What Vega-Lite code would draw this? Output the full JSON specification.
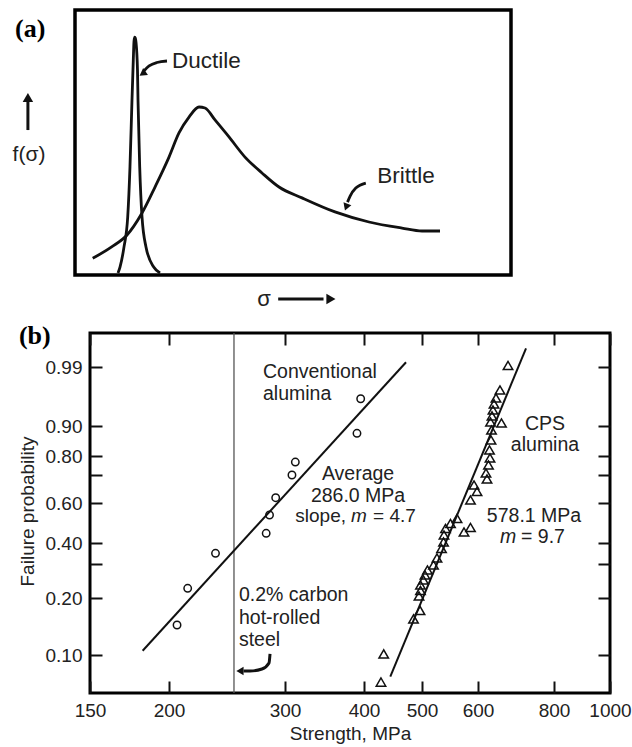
{
  "$schema": "https://vega.github.io/schema/vega-lite/v6.json",
  "background": "white",
  "padding": {"left": 10, "top": 8, "right": 0, "bottom": 0},
  "config": {
    "font": "Liberation Sans",
    "view": {"stroke": null},
    "axis": {
      "domain": false, "grid": false, "ticks": true, "tickSize": -12, "tickWidth": 2, "tickColor": "#111",
      "labelPadding": 20, "labelFont": "Liberation Sans", "labelFontSize": 19, "labelColor": "#222",
      "labelOverlap": false, "labelFlush": false,
      "titleFont": "Liberation Sans", "titleFontSize": 19, "titleFontWeight": "normal", "titleColor": "#222"
    }
  },
  "datasets": {
    "curves": [
      {"curve": "Ductile", "x": 9.86, "y": 0.75},
      {"curve": "Ductile", "x": 10.32, "y": 3.0},
      {"curve": "Ductile", "x": 11.24, "y": 10.6},
      {"curve": "Ductile", "x": 12.09, "y": 21.9},
      {"curve": "Ductile", "x": 12.61, "y": 40.8},
      {"curve": "Ductile", "x": 13.07, "y": 66.0},
      {"curve": "Ductile", "x": 13.37, "y": 81.1},
      {"curve": "Ductile", "x": 13.53, "y": 88.2},
      {"curve": "Ductile", "x": 13.69, "y": 89.8},
      {"curve": "Ductile", "x": 13.84, "y": 89.4},
      {"curve": "Ductile", "x": 13.99, "y": 87.9},
      {"curve": "Ductile", "x": 14.33, "y": 77.4},
      {"curve": "Ductile", "x": 14.45, "y": 66.0},
      {"curve": "Ductile", "x": 14.84, "y": 40.8},
      {"curve": "Ductile", "x": 15.37, "y": 21.9},
      {"curve": "Ductile", "x": 16.28, "y": 10.6},
      {"curve": "Ductile", "x": 18.05, "y": 3.0},
      {"curve": "Ductile", "x": 19.5, "y": 0.75},
      {"curve": "Brittle", "x": 4.06, "y": 6.3},
      {"curve": "Brittle", "x": 8.49, "y": 10.7},
      {"curve": "Brittle", "x": 11.93, "y": 15.1},
      {"curve": "Brittle", "x": 15.37, "y": 23.4},
      {"curve": "Brittle", "x": 18.35, "y": 33.2},
      {"curve": "Brittle", "x": 21.56, "y": 44.5},
      {"curve": "Brittle", "x": 23.85, "y": 53.6},
      {"curve": "Brittle", "x": 26.15, "y": 59.6},
      {"curve": "Brittle", "x": 28.44, "y": 63.4},
      {"curve": "Brittle", "x": 29.82, "y": 63.0},
      {"curve": "Brittle", "x": 32.11, "y": 58.5},
      {"curve": "Brittle", "x": 35.32, "y": 52.1},
      {"curve": "Brittle", "x": 38.99, "y": 44.5},
      {"curve": "Brittle", "x": 42.89, "y": 38.5},
      {"curve": "Brittle", "x": 46.79, "y": 33.2},
      {"curve": "Brittle", "x": 52.06, "y": 29.1},
      {"curve": "Brittle", "x": 59.63, "y": 23.8},
      {"curve": "Brittle", "x": 67.43, "y": 20.0},
      {"curve": "Brittle", "x": 75.0, "y": 17.7},
      {"curve": "Brittle", "x": 79.59, "y": 16.6},
      {"curve": "Brittle", "x": 83.72, "y": 16.6}
    ],
    "pointers": [
      {"pointer": "Ductile", "x": 21.1, "y": 80.75},
      {"pointer": "Ductile", "x": 18.8, "y": 80.2},
      {"pointer": "Ductile", "x": 17.0, "y": 78.9},
      {"pointer": "Ductile", "x": 15.8, "y": 77.0},
      {"pointer": "Brittle", "x": 66.7, "y": 34.7},
      {"pointer": "Brittle", "x": 64.4, "y": 32.8},
      {"pointer": "Brittle", "x": 63.1, "y": 29.8},
      {"pointer": "Brittle", "x": 62.5, "y": 27.5}
    ],
    "conv": [
      {"strength": 205.7, "p": 0.1526},
      {"strength": 213.5, "p": 0.2285},
      {"strength": 235.3, "p": 0.351},
      {"strength": 280.9, "p": 0.4485},
      {"strength": 284.2, "p": 0.54},
      {"strength": 290.4, "p": 0.619},
      {"strength": 307.7, "p": 0.70},
      {"strength": 311.5, "p": 0.768},
      {"strength": 395.2, "p": 0.9416},
      {"strength": 389.9, "p": 0.8757}
    ],
    "cps": [
      {"strength": 672.2, "p": 0.9923},
      {"strength": 652.1, "p": 0.9549},
      {"strength": 642.3, "p": 0.9427},
      {"strength": 637.5, "p": 0.9336},
      {"strength": 635.0, "p": 0.9244},
      {"strength": 632.6, "p": 0.9153},
      {"strength": 655.8, "p": 0.9046},
      {"strength": 629.1, "p": 0.9061},
      {"strength": 631.5, "p": 0.8867},
      {"strength": 630.3, "p": 0.8533},
      {"strength": 626.7, "p": 0.82},
      {"strength": 627.9, "p": 0.7895},
      {"strength": 624.3, "p": 0.7526},
      {"strength": 618.4, "p": 0.7105},
      {"strength": 620.8, "p": 0.6857},
      {"strength": 592.3, "p": 0.6643},
      {"strength": 598.1, "p": 0.6411},
      {"strength": 585.5, "p": 0.6107},
      {"strength": 560.4, "p": 0.5225},
      {"strength": 548.6, "p": 0.4975},
      {"strength": 585.5, "p": 0.4775},
      {"strength": 573.3, "p": 0.455},
      {"strength": 539.8, "p": 0.4725},
      {"strength": 537.1, "p": 0.44},
      {"strength": 536.3, "p": 0.405},
      {"strength": 532.8, "p": 0.3738},
      {"strength": 525.0, "p": 0.3286},
      {"strength": 519.1, "p": 0.2971},
      {"strength": 509.0, "p": 0.2824},
      {"strength": 504.9, "p": 0.2676},
      {"strength": 502.4, "p": 0.2529},
      {"strength": 497.1, "p": 0.2382},
      {"strength": 497.1, "p": 0.2221},
      {"strength": 494.3, "p": 0.2059},
      {"strength": 496.2, "p": 0.1781},
      {"strength": 483.9, "p": 0.1632},
      {"strength": 431.5, "p": 0.1018},
      {"strength": 427.0, "p": 0.0526}
    ],
    "fits": [
      {"series": "Conventional alumina", "strength": 181.7, "p": 0.1075},
      {"series": "Conventional alumina", "strength": 470.2, "p": 0.9972},
      {"series": "CPS alumina", "strength": 442.6, "p": 0.0619},
      {"series": "CPS alumina", "strength": 719.6, "p": 1.0185}
    ],
    "steelArrow": [
      {"strength": 284.7, "p": 0.1018},
      {"strength": 283.7, "p": 0.086},
      {"strength": 276.8, "p": 0.0754},
      {"strength": 265.5, "p": 0.0719},
      {"strength": 259.5, "p": 0.0719}
    ]
  },
  "bounds": "flush",
  "spacing": 58,
  "vconcat": [
    {
      "width": 436,
      "height": 265,
      "view": {"stroke": "#000", "strokeWidth": 3.5},
      "layer": [
        {
          "data": {"name": "curves"},
          "mark": {"type": "line", "color": "#111", "strokeWidth": 2.8, "interpolate": "monotone"},
          "encoding": {
            "x": {"field": "x", "type": "quantitative", "scale": {"domain": [0, 100], "nice": false, "zero": false}, "axis": null},
            "y": {"field": "y", "type": "quantitative", "scale": {"domain": [0, 100], "nice": false, "zero": false}, "axis": null},
            "detail": {"field": "curve"}
          }
        },
        {
          "data": {"name": "pointers"},
          "mark": {"type": "line", "color": "#111", "strokeWidth": 2.8, "interpolate": "monotone"},
          "encoding": {
            "x": {"field": "x", "type": "quantitative"},
            "y": {"field": "y", "type": "quantitative"},
            "detail": {"field": "pointer"}
          }
        },
        {
          "data": {"values": [{}]},
          "mark": {"type": "point", "shape": "triangle-up", "filled": true, "color": "#111", "size": 70, "angle": 235, "opacity": 1},
          "encoding": {"x": {"datum": 15.5}, "y": {"datum": 76.0}}
        },
        {
          "data": {"values": [{}]},
          "mark": {"type": "point", "shape": "triangle-up", "filled": true, "color": "#111", "size": 70, "angle": 200, "opacity": 1},
          "encoding": {"x": {"datum": 62.2}, "y": {"datum": 25.6}}
        },
        {
          "data": {"values": [{}]},
          "mark": {"type": "rule", "color": "#111", "strokeWidth": 3},
          "encoding": {"x": {"datum": -10.8}, "y": {"datum": 54.7}, "y2": {"datum": 65.5}}
        },
        {
          "data": {"values": [{}]},
          "mark": {"type": "point", "shape": "triangle-up", "filled": true, "color": "#111", "size": 110, "opacity": 1},
          "encoding": {"x": {"datum": -10.8}, "y": {"datum": 67.0}}
        },
        {
          "data": {"values": [{}]},
          "mark": {"type": "rule", "color": "#111", "strokeWidth": 3},
          "encoding": {"x": {"datum": 46.6}, "x2": {"datum": 57.0}, "y": {"datum": -9.06}}
        },
        {
          "data": {"values": [{}]},
          "mark": {"type": "point", "shape": "triangle-right", "filled": true, "color": "#111", "size": 110, "opacity": 1},
          "encoding": {"x": {"datum": 58.7}, "y": {"datum": -9.06}}
        },
        {
          "data": {"values": [{}]},
          "mark": {"type": "text", "font": "Liberation Serif", "fontWeight": "bold", "fontSize": 26, "align": "left", "baseline": "alphabetic", "color": "#000"},
          "encoding": {"x": {"datum": -13.76}, "y": {"datum": 89.8}, "text": {"value": "(a)"}}
        },
        {
          "data": {"values": [{}]},
          "mark": {"type": "text", "fontSize": 22.5, "align": "left", "baseline": "alphabetic", "color": "#222"},
          "encoding": {"x": {"datum": 22.25}, "y": {"datum": 78.0}, "text": {"value": "Ductile"}}
        },
        {
          "data": {"values": [{}]},
          "mark": {"type": "text", "fontSize": 22.5, "align": "left", "baseline": "alphabetic", "color": "#222"},
          "encoding": {"x": {"datum": 69.3}, "y": {"datum": 34.6}, "text": {"value": "Brittle"}}
        },
        {
          "data": {"values": [{}]},
          "mark": {"type": "text", "fontSize": 21, "align": "center", "baseline": "alphabetic", "color": "#222"},
          "encoding": {"x": {"datum": -10.55}, "y": {"datum": 43.0}, "text": {"value": "f(σ)"}}
        },
        {
          "data": {"values": [{}]},
          "mark": {"type": "text", "fontSize": 22, "align": "center", "baseline": "alphabetic", "color": "#222"},
          "encoding": {"x": {"datum": 43.35}, "y": {"datum": -11.7}, "text": {"value": "σ"}}
        }
      ]
    },
    {
      "bounds": "flush",
      "spacing": 0,
      "hconcat": [
        {
          "width": 15,
          "height": 1,
          "data": {"values": [{}]},
          "mark": {"type": "point", "opacity": 0},
          "encoding": {}
        },
        {
          "width": 520,
          "height": 360,
          "view": {"stroke": "#000", "strokeWidth": 3},
          "resolve": {"axis": {"x": "independent", "y": "independent"}},
          "layer": [
            {
              "data": {"values": [{}]},
              "mark": {"type": "rule", "color": "#555", "strokeWidth": 1.3},
              "encoding": {
                "x": {"datum": 251, "type": "quantitative", "axis": null,
                      "scale": {"type": "log", "domain": [150, 200, 300, 400, 500, 600, 800, 1000], "range": [0, 79, 195, 274, 332, 388, 464, 520], "nice": false}}
              }
            },
            {
              "data": {"name": "fits"},
              "mark": {"type": "line", "color": "#111", "strokeWidth": 2},
              "encoding": {
                "x": {"field": "strength", "type": "quantitative", "axis": null},
                "y": {"field": "p", "type": "quantitative", "axis": null,
                      "scale": {"type": "linear", "domain": [0.1, 0.2, 0.3, 0.4, 0.6, 0.7, 0.8, 0.9, 0.99], "range": [322, 265, 231, 210, 170, 142, 123, 93, 34], "nice": false, "zero": false}},
                "detail": {"field": "series"}
              }
            },
            {
              "data": {"name": "conv"},
              "mark": {"type": "point", "shape": "circle", "filled": false, "color": "#111", "strokeWidth": 1.5, "size": 55, "opacity": 1},
              "encoding": {
                "x": {"field": "strength", "type": "quantitative",
                      "axis": {"orient": "bottom", "values": [150, 200, 300, 400, 500, 600, 800, 1000], "format": "d", "title": "Strength, MPa", "titlePadding": 4}},
                "y": {"field": "p", "type": "quantitative",
                      "axis": {"orient": "left", "values": [0.1, 0.2, 0.3, 0.4, 0.6, 0.7, 0.8, 0.9, 0.99], "labelExpr": "datum.value == 0.7 || datum.value == 0.3 ? '' : format(datum.value, '.2f')", "title": "Failure probability", "titlePadding": 8}}
              }
            },
            {
              "data": {"name": "cps"},
              "mark": {"type": "point", "shape": "triangle-up", "filled": false, "color": "#111", "strokeWidth": 1.5, "size": 90, "opacity": 1},
              "encoding": {
                "x": {"field": "strength", "type": "quantitative",
                      "axis": {"orient": "top", "values": [150, 200, 300, 400, 500, 600, 800, 1000], "labels": false, "title": null}},
                "y": {"field": "p", "type": "quantitative",
                      "axis": {"orient": "right", "values": [0.1, 0.2, 0.3, 0.4, 0.6, 0.7, 0.8, 0.9, 0.99], "labels": false, "title": null}}
              }
            },
            {
              "data": {"name": "steelArrow"},
              "mark": {"type": "line", "color": "#111", "strokeWidth": 3, "interpolate": "monotone"},
              "encoding": {
                "x": {"field": "strength", "type": "quantitative", "axis": null},
                "y": {"field": "p", "type": "quantitative", "axis": null}
              }
            },
            {
              "data": {"values": [{}]},
              "mark": {"type": "point", "shape": "triangle-left", "filled": true, "color": "#111", "size": 70, "opacity": 1},
              "encoding": {"x": {"datum": 256.3, "axis": null}, "y": {"datum": 0.0719, "axis": null}}
            },
            {
              "data": {"values": [{}]},
              "mark": {"type": "text", "font": "Liberation Serif", "fontWeight": "bold", "fontSize": 26, "align": "left", "baseline": "alphabetic", "color": "#000"},
              "encoding": {"x": {"datum": 115.8, "axis": null}, "y": {"datum": 1.0251, "axis": null}, "text": {"value": "(b)"}}
            },
            {
              "data": {"values": [{}]},
              "mark": {"type": "text", "fontSize": 19.5, "align": "left", "baseline": "alphabetic", "color": "#222", "lineHeight": 22},
              "encoding": {"x": {"datum": 277.8, "axis": null}, "y": {"datum": 0.9732, "axis": null}, "text": {"value": ["Conventional", "alumina"]}}
            },
            {
              "data": {"values": [{}]},
              "mark": {"type": "text", "fontSize": 19.5, "align": "center", "baseline": "alphabetic", "color": "#222", "lineHeight": 21.5},
              "encoding": {"x": {"datum": 391.4, "axis": null}, "y": {"datum": 0.6821, "axis": null}, "text": {"value": ["Average", "286.0 MPa"]}}
            },
            {
              "data": {"values": [{}]},
              "mark": {"type": "text", "fontSize": 19, "align": "right", "baseline": "alphabetic", "color": "#222"},
              "encoding": {"x": {"datum": 374.6, "axis": null}, "y": {"datum": 0.505, "axis": null}, "text": {"value": "slope,"}}
            },
            {
              "data": {"values": [{}]},
              "mark": {"type": "text", "fontSize": 19, "fontStyle": "italic", "align": "left", "baseline": "alphabetic", "color": "#222"},
              "encoding": {"x": {"datum": 381.5, "axis": null}, "y": {"datum": 0.505, "axis": null}, "text": {"value": "m"}}
            },
            {
              "data": {"values": [{}]},
              "mark": {"type": "text", "fontSize": 19, "align": "left", "baseline": "alphabetic", "color": "#222"},
              "encoding": {"x": {"datum": 414.1, "axis": null}, "y": {"datum": 0.505, "axis": null}, "text": {"value": "= 4.7"}}
            },
            {
              "data": {"values": [{}]},
              "mark": {"type": "text", "fontSize": 19.5, "align": "center", "baseline": "alphabetic", "color": "#222", "lineHeight": 21},
              "encoding": {"x": {"datum": 773.2, "axis": null}, "y": {"datum": 0.8867, "axis": null}, "text": {"value": ["CPS", "alumina"]}}
            },
            {
              "data": {"values": [{}]},
              "mark": {"type": "text", "fontSize": 19.5, "align": "center", "baseline": "alphabetic", "color": "#222"},
              "encoding": {"x": {"datum": 741.7, "axis": null}, "y": {"datum": 0.5065, "axis": null}, "text": {"value": "578.1 MPa"}}
            },
            {
              "data": {"values": [{}]},
              "mark": {"type": "text", "fontSize": 19.5, "fontStyle": "italic", "align": "left", "baseline": "alphabetic", "color": "#222"},
              "encoding": {"x": {"datum": 652.1, "axis": null}, "y": {"datum": 0.40, "axis": null}, "text": {"value": "m"}}
            },
            {
              "data": {"values": [{}]},
              "mark": {"type": "text", "fontSize": 19.5, "align": "left", "baseline": "alphabetic", "color": "#222"},
              "encoding": {"x": {"datum": 706.1, "axis": null}, "y": {"datum": 0.40, "axis": null}, "text": {"value": "= 9.7"}}
            },
            {
              "data": {"values": [{}]},
              "mark": {"type": "text", "fontSize": 19.5, "align": "left", "baseline": "alphabetic", "color": "#222", "lineHeight": 22.5},
              "encoding": {"x": {"datum": 255.4, "axis": null}, "y": {"datum": 0.1939, "axis": null}, "text": {"value": ["0.2% carbon", "hot-rolled", "steel"]}}
            }
          ]
        }
      ]
    }
  ]
}
